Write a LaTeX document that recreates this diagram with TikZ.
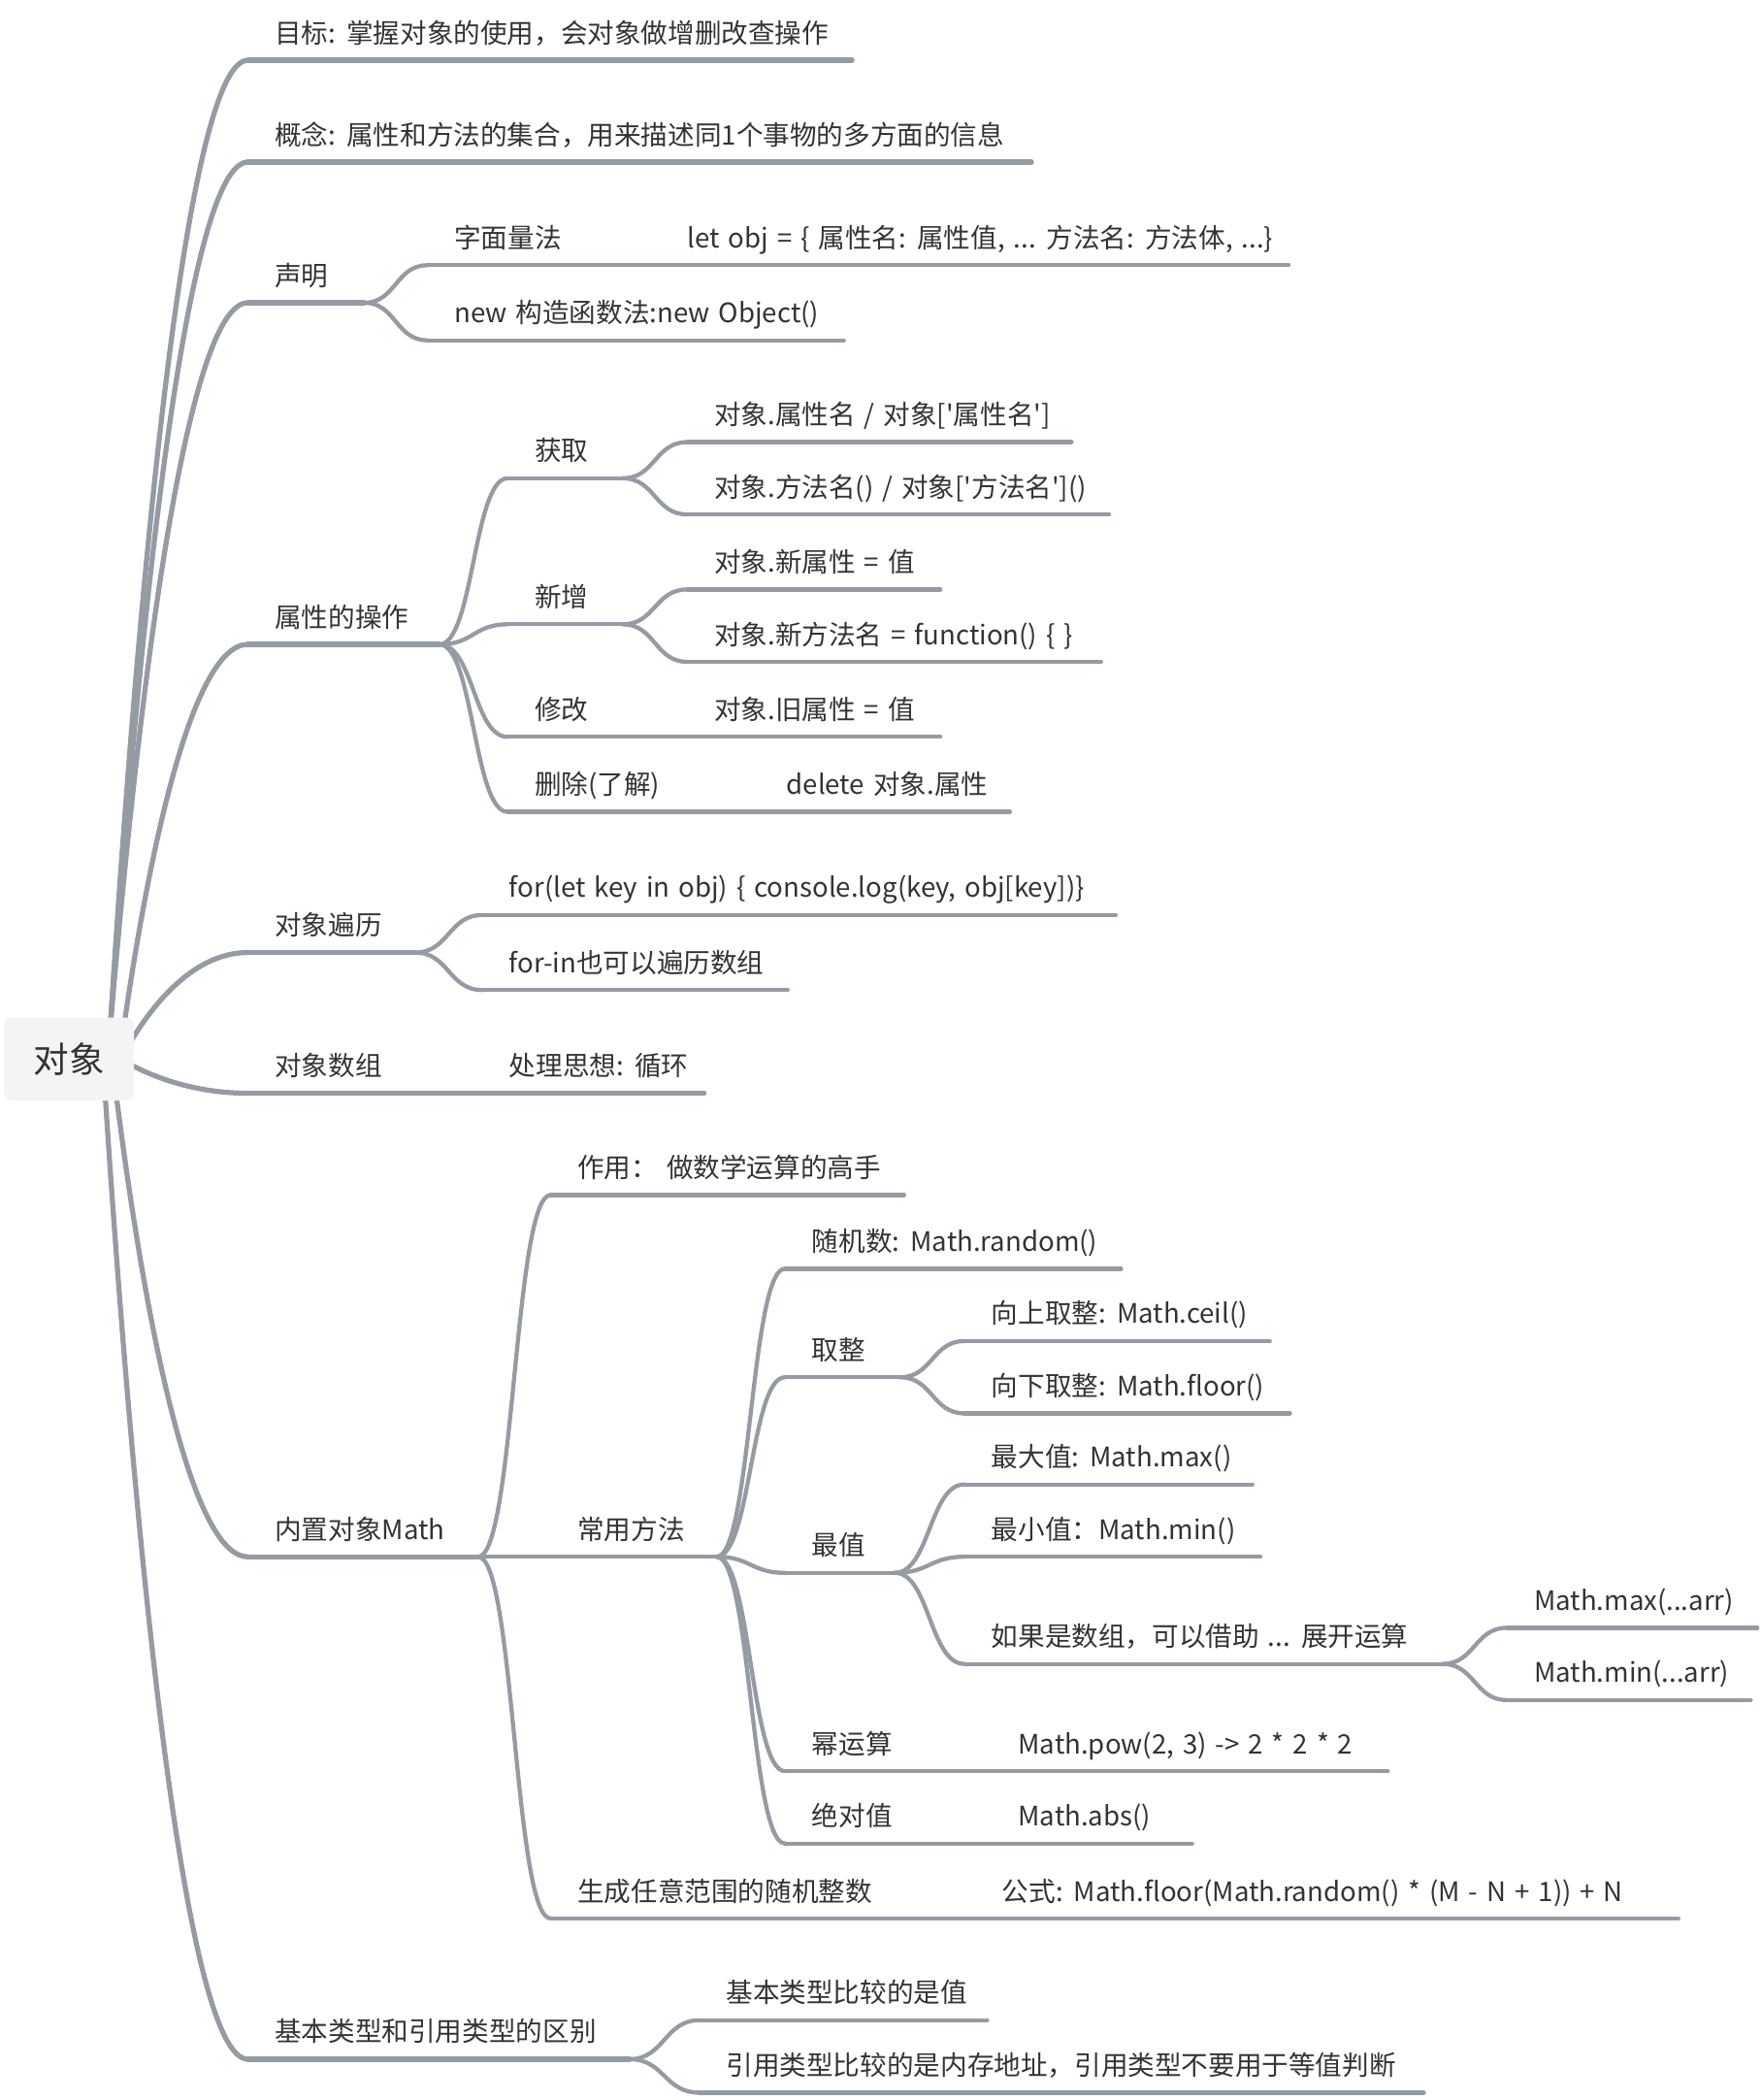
\documentclass[tikz,border=0pt]{standalone}
\usepackage{fontspec}
\newfontfamily\mapfont{Noto Sans CJK SC}[WordSpace=1.45]
\usepackage{tikz}
\usetikzlibrary{calc,backgrounds}
\definecolor{branch}{HTML}{959BA3}
\definecolor{ink}{HTML}{333333}
\definecolor{rootfill}{HTML}{F4F4F4}
\tikzset{
  main/.style={draw=branch, line width=3.8pt, line cap=round},
  sub/.style={draw=branch, line width=3.1pt, line cap=round},
  topic/.style={anchor=base west, inner sep=0pt, text=ink,
      font=\mapfont\fontsize{20}{24}\selectfont},
  rootbox/.style={fill=rootfill, rounded corners=6pt, inner sep=0pt,
      minimum width=97pt, minimum height=62pt, text=ink,
      font=\mapfont\fontsize{26.5}{30}\selectfont}
}
% style, name, x start, x end, y, text
\def\Topic#1#2#3#4#5#6{%
  \coordinate (#2-l) at (#3,#5);
  \coordinate (#2-r) at (#4,#5);
  \draw[#1] (#2-l) -- (#2-r);
  \node[topic] (#2) at (#3+20,#5-13) {#6};
}
\def\Link#1#2#3{%
  \draw[#1] let \p1=(#2), \p2=(#3) in
    (\p1) .. controls ({(\x1+\x2)/2},\y1) and ({(\x1+\x2)/2},\y2) .. (\p2);
}
\def\RootLink#1#2{%
  \draw[main] let \p1=(#1), \p2=(#2) in
    (\p1) .. controls ({\x1+0.2*(\x2-\x1)},{\y1+0.45*(\y2-\y1)})
    and ({\x1+0.55*(\x2-\x1)},\y2) .. (\p2);
}
\begin{document}
\begin{tikzpicture}[x=1pt,y=-1pt]
\useasboundingbox (0,0) rectangle (1314,1567.5);
\node[rootbox] (root) at (51.5,790.5) {对象};
\coordinate (root-n1) at ($(root.north east)+(-18,9)$);
\coordinate (root-n2) at ($(root.north east)+(-8,9)$);
\coordinate (root-e) at ($(root.east)+(-10,0)$);
\coordinate (root-s1) at ($(root.south east)+(-14,-9)$);
\coordinate (root-s2) at ($(root.south east)+(-22,-9)$);
% first level
\Topic{main}{goal}{185}{636}{45}{目标: 掌握对象的使用，会对象做增删改查操作}
\Topic{main}{concept}{185}{770}{121}{概念: 属性和方法的集合，用来描述同1个事物的多方面的信息}
\Topic{main}{decl}{185}{272}{226}{声明}
\Topic{main}{prop}{185}{328}{481}{属性的操作}
\Topic{main}{iter}{185}{310}{711}{对象遍历}
\Topic{main}{arr}{185}{300}{816}{对象数组}
\Topic{main}{math}{185}{357}{1162}{内置对象Math}
\Topic{main}{type}{185}{470}{1537}{基本类型和引用类型的区别}
% 声明
\Topic{sub}{literal}{319}{434}{198}{字面量法}
\Topic{sub}{literalv}{493}{962}{198}{let obj = \{ 属性名: 属性值, ... 方法名: 方法体, ...\}}
\Topic{sub}{ctor}{319}{630}{254}{new 构造函数法:new Object()}
% 属性的操作
\Topic{sub}{get}{379}{465}{357}{获取}
\Topic{sub}{get1}{513}{800}{330}{对象.属性名 / 对象['属性名']}
\Topic{sub}{get2}{513}{828}{384}{对象.方法名() / 对象['方法名']()}
\Topic{sub}{add}{379}{465}{466}{新增}
\Topic{sub}{add1}{513}{702}{440}{对象.新属性 = 值}
\Topic{sub}{add2}{513}{822}{494}{对象.新方法名 = function() \{ \}}
\Topic{sub}{mod}{379}{465}{550}{修改}
\Topic{sub}{mod1}{513}{702}{550}{对象.旧属性 = 值}
\Topic{sub}{del}{379}{507}{606}{删除(了解)}
\Topic{sub}{del1}{567}{754}{606}{delete 对象.属性}
% 对象遍历, 对象数组
\Topic{sub}{iter1}{360}{833}{683}{for(let key in obj) \{ console.log(key, obj[key])\}}
\Topic{sub}{iter2}{360}{588}{739}{for-in也可以遍历数组}
\Topic{sub}{arr1}{360}{526}{816}{处理思想: 循环}
% 内置对象Math
\Topic{sub}{use}{411}{675}{892}{作用： 做数学运算的高手}
\Topic{sub}{common}{411}{535}{1162}{常用方法}
\Topic{sub}{rand}{586}{837}{947}{随机数: Math.random()}
\Topic{sub}{round}{586}{672}{1028}{取整}
\Topic{sub}{ceil}{720}{948}{1001}{向上取整: Math.ceil()}
\Topic{sub}{floor}{720}{963}{1055}{向下取整: Math.floor()}
\Topic{sub}{best}{586}{668}{1174}{最值}
\Topic{sub}{max}{720}{935}{1108}{最大值: Math.max()}
\Topic{sub}{min}{720}{941}{1162}{最小值：Math.min()}
\Topic{sub}{spread}{720}{1077}{1242}{如果是数组，可以借助 ... 展开运算}
\Topic{sub}{smax}{1125}{1312}{1215}{Math.max(...arr)}
\Topic{sub}{smin}{1125}{1307}{1269}{Math.min(...arr)}
\Topic{sub}{pow}{586}{680}{1322}{幂运算}
\Topic{sub}{pow1}{740}{1036}{1322}{Math.pow(2, 3) -> 2 * 2 * 2}
\Topic{sub}{abs}{586}{680}{1376}{绝对值}
\Topic{sub}{abs1}{740}{890}{1376}{Math.abs()}
\Topic{sub}{range}{411}{670}{1432}{生成任意范围的随机整数}
\Topic{sub}{range1}{728}{1253}{1432}{公式: Math.floor(Math.random() * (M - N + 1)) + N}
% 基本类型和引用类型的区别
\Topic{sub}{type1}{522}{737}{1508}{基本类型比较的是值}
\Topic{sub}{type2}{522}{1063}{1562}{引用类型比较的是内存地址，引用类型不要用于等值判断}
% connectors
\foreach \a/\b in {decl/literal, decl/ctor, literal/literalv,
    prop/get, prop/add, prop/mod, prop/del,
    get/get1, get/get2, add/add1, add/add2, mod/mod1, del/del1,
    iter/iter1, iter/iter2, arr/arr1,
    math/use, math/common, math/range, range/range1,
    common/rand, common/round, common/best, common/pow, common/abs,
    round/ceil, round/floor, best/max, best/min, best/spread,
    spread/smax, spread/smin, pow/pow1, abs/abs1,
    type/type1, type/type2}
  \Link{sub}{\a-r}{\b-l};
\begin{scope}[on background layer]
\foreach \t in {goal,concept,decl}
  \RootLink{root-n1}{\t-l};
\RootLink{root-n2}{prop-l}
\RootLink{root-e}{iter-l}
\RootLink{root-e}{arr-l}
\RootLink{root-s1}{math-l}
\RootLink{root-s2}{type-l}
\end{scope}
\end{tikzpicture}
\end{document}
